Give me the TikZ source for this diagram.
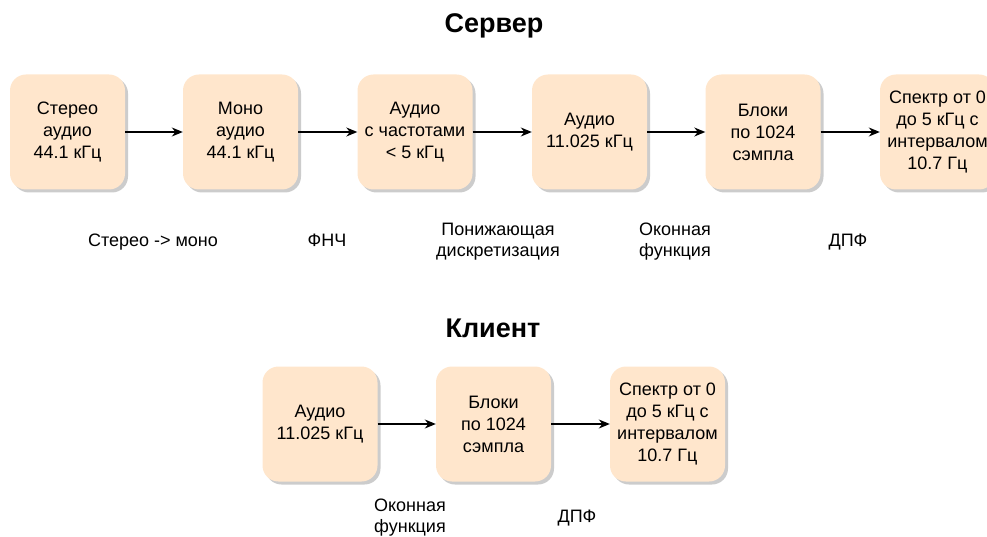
\documentclass[tikz,border=0pt]{standalone}
\usepackage{fontspec}
\setmainfont{Liberation Sans}
\usetikzlibrary{arrows.meta,shadows}
\definecolor{peach}{HTML}{FFE6CC}

\begin{document}
\begin{tikzpicture}[
  x=1pt,y=-1pt,
  block/.style={rectangle,rounded corners=16pt,fill=peach,minimum width=115pt,minimum height=115pt,
    inner sep=2pt,align=center,font=\fontsize{18}{22}\selectfont,
    drop shadow={shadow xshift=3pt,shadow yshift=-3pt,fill=black!25,opacity=.8}},
  caption/.style={align=center,font=\fontsize{18}{21}\selectfont},
  heading/.style={font=\fontsize{27}{30}\selectfont\bfseries},
  >={Stealth[length=11pt,width=9pt]}
]
  \useasboundingbox (0,0) rectangle (987,537);

  % Server chain
  \node[heading] (server) at (494,26) {Сервер};
  \node[block] (stereo) at (67.5,132) {Стерео\\аудио\\44.1 кГц};
  \node[block] (mono) at (240.5,132) {Моно\\аудио\\44.1 кГц};
  \node[block] (lowpass) at (415,132) {Аудио\\с частотами\\< 5 кГц};
  \node[block] (down) at (589.5,132) {Аудио\\11.025 кГц};
  \node[block] (frames) at (763,132) {Блоки\\по 1024\\сэмпла};
  \node[block] (spectrum) at (937.5,132) {Спектр от 0\\до 5 кГц с\\интервалом\\10.7 Гц};

  % Server step captions
  \node[caption] (cstereo) at (153,242) {Стерео -> моно};
  \node[caption] (clowpass) at (327,240) {ФНЧ};
  \node[caption] (cdown) at (498,242) {Понижающая\\дискретизация};
  \node[caption] (cwindow) at (675,242) {Оконная\\функция};
  \node[caption] (cdft) at (848,242) {ДПФ};

  \draw[->,line width=1.2pt] (stereo) -- (mono);
  \draw[->,line width=1.2pt] (mono) -- (lowpass);
  \draw[->,line width=1.2pt] (lowpass) -- (down);
  \draw[->,line width=1.2pt] (down) -- (frames);
  \draw[->,line width=1.2pt] (frames) -- (spectrum);

  % Client chain
  \node[heading] (client) at (493,328) {Клиент};
  \node[block] (caudio) at (320,424) {Аудио\\11.025 кГц};
  \node[block] (cframes) at (493.5,424) {Блоки\\по 1024\\сэмпла};
  \node[block] (cspectrum) at (667.5,424) {Спектр от 0\\до 5 кГц с\\интервалом\\10.7 Гц};

  \node[caption] (ccwindow) at (410,518) {Оконная\\функция};
  \node[caption] (ccdft) at (577,518) {ДПФ};

  \draw[->,line width=1.2pt] (caudio) -- (cframes);
  \draw[->,line width=1.2pt] (cframes) -- (cspectrum);
\end{tikzpicture}
\end{document}
